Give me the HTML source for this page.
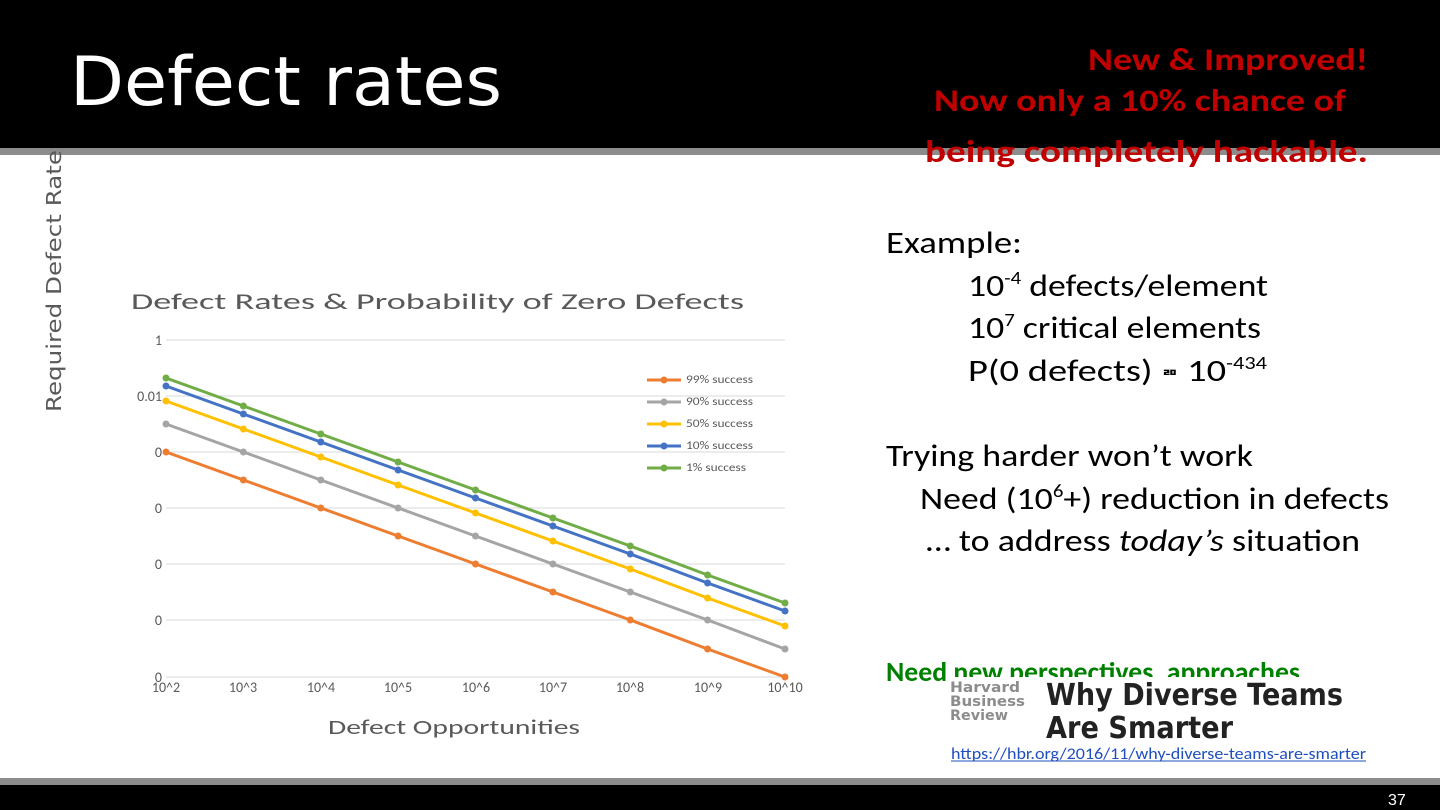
<!DOCTYPE html>
<html><head><style>
body{margin:0;width:1440px;height:810px;position:relative;overflow:hidden;background:#fff}
</style></head><body>
<svg width="1440" height="810" style="position:absolute;left:0;top:0">
<rect x="0" y="0" width="1440" height="148" fill="#000"/>
<rect x="0" y="148" width="1440" height="7" fill="#8c8c8c"/>
<rect x="0" y="778" width="1440" height="7" fill="#8c8c8c"/>
<rect x="0" y="785" width="1440" height="25" fill="#000"/>
<text x="1388" y="805" font-family="Liberation Sans" font-size="16" fill="#fff">37</text>
<text x="70" y="105" font-family="DejaVu Sans" font-size="68" fill="#fff" textLength="432" lengthAdjust="spacingAndGlyphs">Defect rates</text>
<g font-family="Carlito, Liberation Sans, sans-serif" font-weight="bold" font-size="31" fill="#c00000">
<text x="1088" y="70" textLength="280" lengthAdjust="spacingAndGlyphs">New &amp; Improved!</text>
<text x="934" y="111" textLength="412" lengthAdjust="spacingAndGlyphs">Now only a 10% chance of</text>
<text x="925" y="162" textLength="443" lengthAdjust="spacingAndGlyphs">being completely hackable.</text>
</g>
<text transform="translate(61,412) rotate(-90)" font-family="DejaVu Sans" font-size="20" fill="#595959" textLength="262" lengthAdjust="spacingAndGlyphs">Required Defect Rate</text>

<text x="131" y="309" font-family="Carlito, Liberation Sans, sans-serif" font-size="23" fill="#595959" textLength="613" lengthAdjust="spacingAndGlyphs">Defect Rates &amp; Probability of Zero Defects</text>
<g stroke="#d9d9d9" stroke-width="1">
<line x1="166" x2="785" y1="340" y2="340"/><line x1="166" x2="785" y1="396" y2="396"/><line x1="166" x2="785" y1="452" y2="452"/><line x1="166" x2="785" y1="508" y2="508"/><line x1="166" x2="785" y1="564" y2="564"/><line x1="166" x2="785" y1="620" y2="620"/><line x1="166" x2="785" y1="677" y2="677"/>
</g>
<g font-family="Carlito, Liberation Sans" font-size="14" fill="#595959" text-anchor="end">
<text x="162" y="345">1</text><text x="162" y="401">0.01</text><text x="162" y="457">0</text><text x="162" y="513">0</text><text x="162" y="569">0</text><text x="162" y="625">0</text><text x="162" y="682">0</text>
</g>
<g font-family="Carlito, Liberation Sans" font-size="14" fill="#595959" text-anchor="middle">
<text x="166" y="692">10^2</text><text x="243" y="692">10^3</text><text x="321" y="692">10^4</text><text x="398" y="692">10^5</text><text x="476" y="692">10^6</text><text x="553" y="692">10^7</text><text x="630" y="692">10^8</text><text x="708" y="692">10^9</text><text x="785" y="692">10^10</text>
</g>
<text x="328" y="734" font-family="Carlito, Liberation Sans" font-size="20" fill="#595959" textLength="252" lengthAdjust="spacingAndGlyphs">Defect Opportunities</text>
<g stroke-width="3" fill="none">
<polyline stroke="#ed7d31" points="166,452 243.4,480 320.8,508 398.1,536 475.5,564 552.9,592 630.3,620 707.6,649 785,677"/>
<polyline stroke="#a5a5a5" points="166,424 243.4,452 320.8,480 398.1,508 475.5,536 552.9,564 630.3,592 707.6,620 785,649"/>
<polyline stroke="#ffc000" points="166,401 243.4,429 320.8,457 398.1,485 475.5,513 552.9,541 630.3,569 707.6,598 785,626"/>
<polyline stroke="#4472c4" points="166,386 243.4,414 320.8,442 398.1,470 475.5,498 552.9,526 630.3,554 707.6,583 785,611"/>
<polyline stroke="#70ad47" points="166,378 243.4,406 320.8,434 398.1,462 475.5,490 552.9,518 630.3,546 707.6,575 785,603"/>
</g>
<g font-family="Carlito, Liberation Sans" font-size="11" fill="#595959">
<line x1="647" x2="681" y1="380" y2="380" stroke="#ed7d31" stroke-width="3"/><circle cx="664" cy="380" r="3.5" fill="#ed7d31"/><text x="686" y="383" textLength="67" lengthAdjust="spacingAndGlyphs">99% success</text>
<line x1="647" x2="681" y1="402" y2="402" stroke="#a5a5a5" stroke-width="3"/><circle cx="664" cy="402" r="3.5" fill="#a5a5a5"/><text x="686" y="405" textLength="67" lengthAdjust="spacingAndGlyphs">90% success</text>
<line x1="647" x2="681" y1="424" y2="424" stroke="#ffc000" stroke-width="3"/><circle cx="664" cy="424" r="3.5" fill="#ffc000"/><text x="686" y="427" textLength="67" lengthAdjust="spacingAndGlyphs">50% success</text>
<line x1="647" x2="681" y1="446" y2="446" stroke="#4472c4" stroke-width="3"/><circle cx="664" cy="446" r="3.5" fill="#4472c4"/><text x="686" y="449" textLength="67" lengthAdjust="spacingAndGlyphs">10% success</text>
<line x1="647" x2="681" y1="468" y2="468" stroke="#70ad47" stroke-width="3"/><circle cx="664" cy="468" r="3.5" fill="#70ad47"/><text x="686" y="471" textLength="60" lengthAdjust="spacingAndGlyphs">1% success</text>
</g>
<g fill="#ed7d31"><circle cx="166" cy="452" r="3.5"/><circle cx="243.4" cy="480" r="3.5"/><circle cx="320.8" cy="508" r="3.5"/><circle cx="398.1" cy="536" r="3.5"/><circle cx="475.5" cy="564" r="3.5"/><circle cx="552.9" cy="592" r="3.5"/><circle cx="630.3" cy="620" r="3.5"/><circle cx="707.6" cy="649" r="3.5"/><circle cx="785" cy="677" r="3.5"/></g>
<g fill="#a5a5a5"><circle cx="166" cy="424" r="3.5"/><circle cx="243.4" cy="452" r="3.5"/><circle cx="320.8" cy="480" r="3.5"/><circle cx="398.1" cy="508" r="3.5"/><circle cx="475.5" cy="536" r="3.5"/><circle cx="552.9" cy="564" r="3.5"/><circle cx="630.3" cy="592" r="3.5"/><circle cx="707.6" cy="620" r="3.5"/><circle cx="785" cy="649" r="3.5"/></g>
<g fill="#ffc000"><circle cx="166" cy="401" r="3.5"/><circle cx="243.4" cy="429" r="3.5"/><circle cx="320.8" cy="457" r="3.5"/><circle cx="398.1" cy="485" r="3.5"/><circle cx="475.5" cy="513" r="3.5"/><circle cx="552.9" cy="541" r="3.5"/><circle cx="630.3" cy="569" r="3.5"/><circle cx="707.6" cy="598" r="3.5"/><circle cx="785" cy="626" r="3.5"/></g>
<g fill="#4472c4"><circle cx="166" cy="386" r="3.5"/><circle cx="243.4" cy="414" r="3.5"/><circle cx="320.8" cy="442" r="3.5"/><circle cx="398.1" cy="470" r="3.5"/><circle cx="475.5" cy="498" r="3.5"/><circle cx="552.9" cy="526" r="3.5"/><circle cx="630.3" cy="554" r="3.5"/><circle cx="707.6" cy="583" r="3.5"/><circle cx="785" cy="611" r="3.5"/></g>
<g fill="#70ad47"><circle cx="166" cy="378" r="3.5"/><circle cx="243.4" cy="406" r="3.5"/><circle cx="320.8" cy="434" r="3.5"/><circle cx="398.1" cy="462" r="3.5"/><circle cx="475.5" cy="490" r="3.5"/><circle cx="552.9" cy="518" r="3.5"/><circle cx="630.3" cy="546" r="3.5"/><circle cx="707.6" cy="575" r="3.5"/><circle cx="785" cy="603" r="3.5"/></g>

<g font-family="Carlito, Liberation Sans, sans-serif" font-size="31" fill="#000">
<text x="886" y="253" textLength="136" lengthAdjust="spacingAndGlyphs">Example:</text>
<text x="968" y="296" textLength="300" lengthAdjust="spacingAndGlyphs">10<tspan font-size="18" dy="-12">-4</tspan><tspan dy="12"> defects/element</tspan></text>
<text x="968" y="338" textLength="293" lengthAdjust="spacingAndGlyphs">10<tspan font-size="18" dy="-12">7</tspan><tspan dy="12"> critical elements</tspan></text>
<text x="968" y="381" textLength="299" lengthAdjust="spacingAndGlyphs">P(0 defects) <tspan font-size="15" font-weight="bold" font-family="Noto Sans CJK KR">ᄅᄆ</tspan> 10<tspan font-size="18" dy="-12">-434</tspan></text>
<text x="886" y="466" textLength="367" lengthAdjust="spacingAndGlyphs">Trying harder won’t work</text>
<text x="920" y="509" textLength="469" lengthAdjust="spacingAndGlyphs">Need (10<tspan font-size="18" dy="-12">6</tspan><tspan dy="12">+) reduction in defects</tspan></text>
<text x="926" y="551" textLength="434" lengthAdjust="spacingAndGlyphs">… to address <tspan font-style="italic">today’s</tspan> situation</text>
<text x="886" y="681" font-size="27" font-weight="bold" fill="#008000" textLength="414" lengthAdjust="spacingAndGlyphs">Need new perspectives, approaches</text>
</g>
<rect x="947" y="677" width="425" height="68" fill="#fff"/>
<g font-family="DejaVu Sans, sans-serif" font-weight="bold" fill="#8c8c8c" font-size="14">
<text x="950" y="692" textLength="70" lengthAdjust="spacingAndGlyphs">Harvard</text>
<text x="950" y="706" textLength="75" lengthAdjust="spacingAndGlyphs">Business</text>
<text x="950" y="720" textLength="58" lengthAdjust="spacingAndGlyphs">Review</text>
</g>
<g font-family="DejaVu Sans, sans-serif" font-weight="bold" fill="#222" font-size="30">
<text x="1046" y="705" textLength="297" lengthAdjust="spacingAndGlyphs">Why Diverse Teams</text>
<text x="1046" y="738" textLength="187" lengthAdjust="spacingAndGlyphs">Are Smarter</text>
</g>
<text x="951" y="759" font-family="Carlito, Liberation Sans" font-size="16" fill="#1f4fbf" textLength="415" lengthAdjust="spacingAndGlyphs">https://hbr.org/2016/11/why-diverse-teams-are-smarter</text>
<line x1="951" x2="1366" y1="761" y2="761" stroke="#1f4fbf" stroke-width="1"/>
</svg>
</body></html>
